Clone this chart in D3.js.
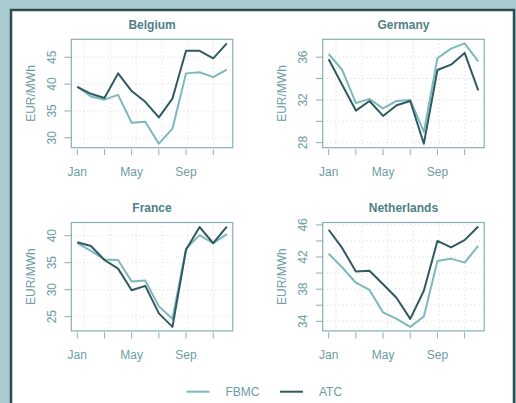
<!DOCTYPE html>
<html>
<head>
<meta charset="utf-8">
<script src="https://cdn.jsdelivr.net/npm/d3@7"></script>
<style>
  body { margin: 0; background: #a9cbd0; }
  svg { display: block; font-family: "Liberation Sans", Arial, sans-serif; }
</style>
</head>
<body>
<svg width="516" height="403"></svg>
<script>
// Data (monthly averages, EUR/MWh)
const months = [1, 2, 3, 4, 5, 6, 7, 8, 9, 10, 11, 12]
const monthNames = ['Jan', 'Feb', 'Mar', 'Apr', 'May', 'Jun', 'Jul', 'Aug', 'Sep', 'Oct', 'Nov', 'Dec']
const xTicks = [1, 3, 5, 7, 9, 11]
// where the dotted vertical grid falls (month units)
const gridMonths = [1.54, 3.44, 5.33, 7.23, 9.13, 11.02]

const belgiumFBMC = [39.5, 37.7, 37.1, 38.0, 32.8, 33.0, 28.9, 31.7, 42.0, 42.2, 41.3, 42.7]
const belgiumATC = [39.5, 38.2, 37.4, 42.0, 38.7, 36.7, 33.8, 37.3, 46.2, 46.2, 44.8, 47.6]
const germanyFBMC = [36.3, 34.8, 31.7, 32.1, 31.2, 31.9, 32.0, 29.0, 35.9, 36.8, 37.3, 35.6]
const germanyATC = [35.8, 33.4, 31.0, 31.9, 30.5, 31.5, 31.9, 27.9, 34.8, 35.3, 36.4, 32.9]
const franceFBMC = [38.6, 37.2, 35.6, 35.5, 31.5, 31.7, 26.9, 24.6, 37.6, 40.1, 38.6, 40.3]
const franceATC = [38.8, 38.1, 35.5, 33.9, 29.9, 30.7, 25.6, 23.1, 37.4, 41.6, 38.6, 41.7]
const netherlandsFBMC = [42.4, 40.7, 38.8, 37.9, 35.1, 34.3, 33.3, 34.6, 41.5, 41.8, 41.3, 43.4]
const netherlandsATC = [45.4, 43.1, 40.2, 40.3, 38.6, 36.9, 34.3, 37.8, 44.0, 43.2, 44.1, 45.8]

const seriesNames = ['FBMC', 'ATC']
const colors = { FBMC: '#7cb8be', ATC: '#2e5a60' }

const panels = [
    { name: 'Belgium', fbmc: belgiumFBMC, atc: belgiumATC, x0: 71.3, y0: 39.3 },
    { name: 'Germany', fbmc: germanyFBMC, atc: germanyATC, x0: 322.7, y0: 39.3 },
    { name: 'France', fbmc: franceFBMC, atc: franceATC, x0: 71.3, y0: 222.5 },
    { name: 'Netherlands', fbmc: netherlandsFBMC, atc: netherlandsATC, x0: 322.7, y0: 222.5 }
]
const W = 161.5, H = 108.4
const axisCol = '#6c9da2', boxCol = '#86b0b4', titleCol = '#4f7f84'

const svg = d3.select('svg')

// frame
svg.append('rect')
    .attr('x', 11).attr('y', 10)
    .attr('width', 503).attr('height', 420)
    .attr('fill', '#fff')
    .attr('stroke', '#2c4d52')
    .attr('stroke-width', 2.5)

// R-style padded range
function pad(vals) {
    const [lo, hi] = d3.extent(vals)
    const r = hi - lo
    return [lo - 0.04 * r, hi + 0.04 * r]
}

panels.forEach(p => {
    const g = svg.append('g').attr('transform', `translate(${p.x0},${p.y0})`)
    const x = d3.scaleLinear().domain(pad(months)).range([0, W])
    const y = d3.scaleLinear().domain(pad(p.fbmc.concat(p.atc))).range([H, 0])
    const yTicks = y.ticks(5)

    // grid
    g.selectAll('.gy').data(yTicks).join('line')
        .attr('x1', 0).attr('x2', W)
        .attr('y1', d => y(d)).attr('y2', d => y(d))
        .attr('stroke', '#d4d4d4').attr('stroke-dasharray', '1,3')
    g.selectAll('.gx').data(gridMonths).join('line')
        .attr('y1', 0).attr('y2', H)
        .attr('x1', d => x(d)).attr('x2', d => x(d))
        .attr('stroke', '#d4d4d4').attr('stroke-dasharray', '1,3')

    // lines
    const line = d3.line().x((d, i) => x(months[i])).y(d => y(d))
    ;[['FBMC', p.fbmc], ['ATC', p.atc]].forEach(([k, vals]) => {
        g.append('path')
            .attr('d', line(vals))
            .attr('fill', 'none')
            .attr('stroke', colors[k])
            .attr('stroke-width', 2)
            .attr('stroke-linejoin', 'round')
    })

    // box
    g.append('rect')
        .attr('width', W).attr('height', H)
        .attr('fill', 'none').attr('stroke', boxCol).attr('stroke-width', 1.2)

    // y axis ticks; labels dropped where they would crowd (like R does)
    g.selectAll('.ty').data(yTicks).join('line')
        .attr('x1', -7).attr('x2', 0)
        .attr('y1', d => y(d)).attr('y2', d => y(d))
        .attr('stroke', boxCol)
    let last = -1e9
    const yLabels = yTicks.filter(d => {
        if (Math.abs(y(d) - last) >= 25) { last = y(d); return true }
        return false
    })
    g.selectAll('.ly').data(yLabels).join('text')
        .attr('transform', d => `translate(-15.5,${y(d)}) rotate(-90)`)
        .attr('text-anchor', 'middle')
        .attr('font-size', 12)
        .attr('fill', axisCol)
        .text(d => d)

    // x axis ticks
    g.selectAll('.tx').data(xTicks).join('line')
        .attr('x1', d => x(d)).attr('x2', d => x(d))
        .attr('y1', H + 1.5).attr('y2', H + 7.5)
        .attr('stroke', boxCol)
    last = -1e9
    const xLabels = xTicks.filter(d => {
        if (x(d) - last >= 40) { last = x(d); return true }
        return false
    })
    g.selectAll('.lx').data(xLabels).join('text')
        .attr('x', d => x(d)).attr('y', H + 28.5)
        .attr('text-anchor', 'middle')
        .attr('font-size', 12)
        .attr('fill', axisCol)
        .text(d => monthNames[d - 1])

    // y title
    g.append('text')
        .attr('transform', `translate(-36.5,${H / 2}) rotate(-90)`)
        .attr('text-anchor', 'middle')
        .attr('font-size', 12)
        .attr('fill', axisCol)
        .text('EUR/MWh')

    // panel title
    g.append('text')
        .attr('x', W / 2).attr('y', -10.3)
        .attr('text-anchor', 'middle')
        .attr('font-size', 12)
        .attr('font-weight', 'bold')
        .attr('fill', titleCol)
        .text(p.name)
})

// legend
const legendX = { FBMC: 186.5, ATC: 280 }
const leg = svg.selectAll('.leg').data(seriesNames).join('g')
    .attr('transform', d => `translate(${legendX[d]},391.7)`)
leg.append('line')
    .attr('x1', 0).attr('x2', 23)
    .attr('stroke', d => colors[d]).attr('stroke-width', 2)
leg.append('text')
    .attr('x', 39).attr('y', 4.3)
    .attr('font-size', 12)
    .attr('fill', axisCol)
    .text(d => d)
</script>
</body>
</html>
